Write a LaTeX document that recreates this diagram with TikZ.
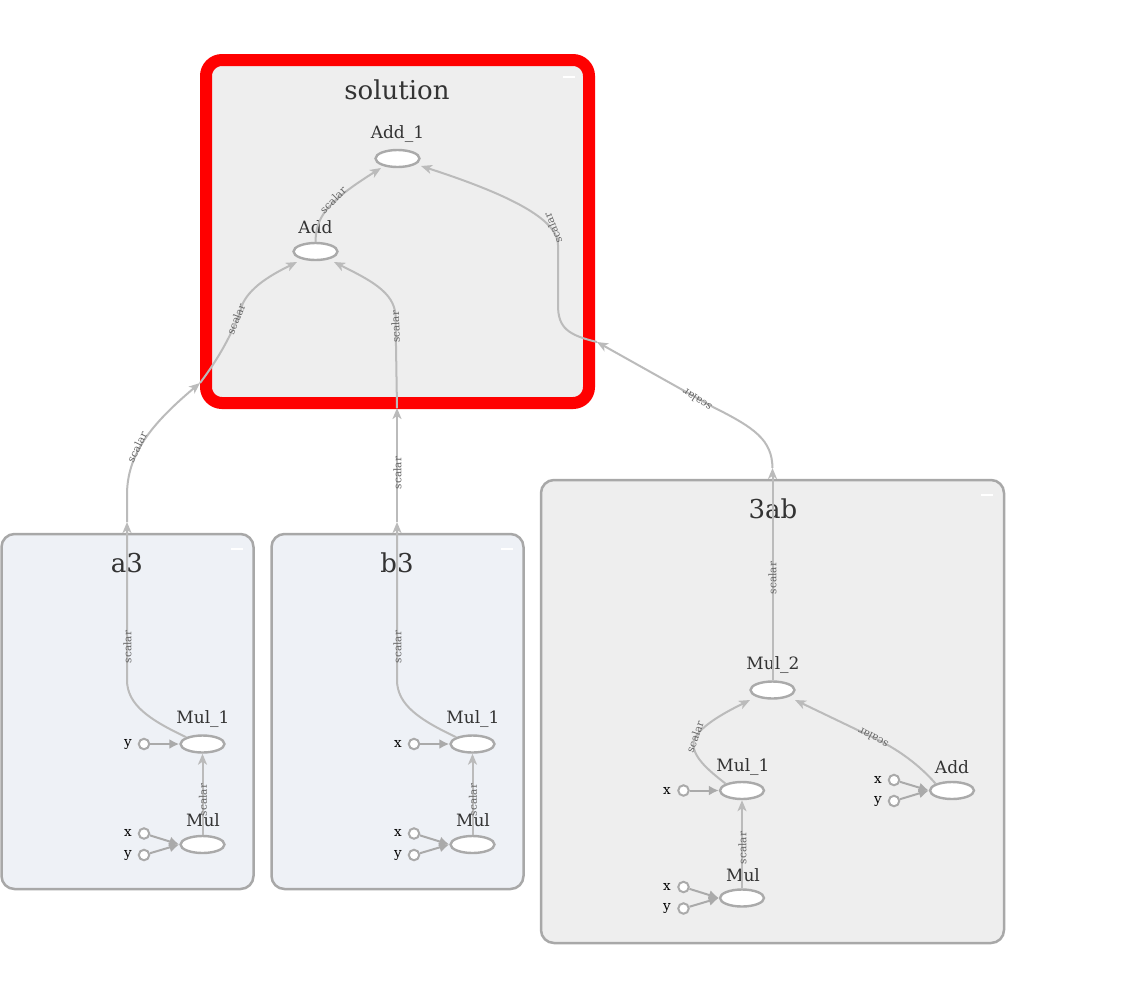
\documentclass[tikz,border=0pt]{standalone}
\usepackage{fontspec}
\setmainfont{DejaVu Serif}
\usetikzlibrary{shapes.geometric,arrows.meta}
\definecolor{opgray}{HTML}{AAAAAA}
\definecolor{edgegray}{HTML}{BBBBBB}
\definecolor{boxgray}{HTML}{A8A8A8}
\definecolor{fillgray}{HTML}{EEEEEE}
\definecolor{fillblue}{HTML}{EEF1F6}
\definecolor{txt}{HTML}{333333}
\definecolor{lbl}{HTML}{666666}
\tikzset{
  opnode/.style={ellipse, draw=opgray, fill=white, line width=2.4pt, minimum width=44pt, minimum height=17pt, inner sep=0pt},
  inpnode/.style={circle, draw=opgray, fill=white, line width=2pt, minimum size=10.5pt, inner sep=0pt},
  optext/.style={font=\fontsize{17}{17}\selectfont, text=txt, inner sep=0pt},
  inptext/.style={font=\fontsize{13.5}{13.5}\selectfont, text=black, inner sep=0pt},
  titletext/.style={font=\fontsize{26}{26}\selectfont, text=txt, inner sep=0pt},
  elabel/.style={font=\fontsize{10.5}{10.5}\selectfont, text=lbl, inner sep=0pt},
  groupbox/.style={rectangle, rounded corners=13pt, draw=boxgray, line width=2.5pt, inner sep=0pt},
  edgeline/.style={draw=edgegray, line width=2pt, -{Stealth[length=11pt,width=9pt,inset=3pt]}},
  inpline/.style={draw=opgray, line width=2pt, -{Latex[length=10pt,width=10pt]}},
  dashmark/.style={draw=white, line width=2.5pt},
}
\begin{document}
\begin{tikzpicture}[x=1pt,y=-1pt]
\useasboundingbox (0,0) rectangle (1125,1005);
\fill[white] (0,0) rectangle (1125,1005);

% ---------- group boxes ----------
\node[groupbox, draw=red, line width=12pt, rounded corners=16pt, fill=fillgray, minimum width=383pt, minimum height=343pt] (sol) at (397.5,231.5) {};
\node[groupbox, fill=fillblue, minimum width=252pt, minimum height=355pt] (a3) at (127.5,711.5) {};
\node[groupbox, fill=fillblue, minimum width=252pt, minimum height=355pt] (b3) at (397.5,711.5) {};
\node[groupbox, fill=fillgray, minimum width=463pt, minimum height=463pt] (ab) at (772.5,711.5) {};

% titles and collapse marks
\node[titletext] (soltitle) at (397,90) {solution};
\node[titletext] (a3title) at (127,563) {a3};
\node[titletext] (b3title) at (397,563) {b3};
\node[titletext] (abtitle) at (773,509) {3ab};
\draw[dashmark] (563,77) -- (575,77);
\draw[dashmark] (231,549) -- (243,549);
\draw[dashmark] (501,549) -- (513,549);
\draw[dashmark] (981,495) -- (993,495);

% ---------- solution ----------
\node[opnode] (add1) at (397.5,158.5) {};
\node[optext] (add1t) at (397.5,134) {Add\_1};
\node[opnode] (add) at (315.5,251.5) {};
\node[optext] (addt) at (315.5,227) {Add};

% ---------- a3 ----------
\node[opnode] (amul1) at (202.5,744) {};
\node[optext] (amul1t) at (203,719) {Mul\_1};
\node[opnode] (amul) at (202.5,844.5) {};
\node[optext] (amult) at (203,820) {Mul};
\node[inpnode] (ay1) at (144,744) {};
\node[inptext] (ay1t) at (128,744) {y};
\node[inpnode] (ax) at (144,833.5) {};
\node[inptext] (axt) at (128,833) {x};
\node[inpnode] (ay) at (144,855) {};
\node[inptext] (ayt) at (128,855) {y};

% ---------- b3 ----------
\node[opnode] (bmul1) at (472.5,744) {};
\node[optext] (bmul1t) at (473,719) {Mul\_1};
\node[opnode] (bmul) at (472.5,844.5) {};
\node[optext] (bmult) at (473,820) {Mul};
\node[inpnode] (bx1) at (414,744) {};
\node[inptext] (bx1t) at (398,744) {x};
\node[inpnode] (bx) at (414,833.5) {};
\node[inptext] (bxt) at (398,833) {x};
\node[inpnode] (by) at (414,855) {};
\node[inptext] (byt) at (398,855) {y};

% ---------- 3ab ----------
\node[opnode] (cmul2) at (772.5,690) {};
\node[optext] (cmul2t) at (773,665) {Mul\_2};
\node[opnode] (cmul1) at (742,790.5) {};
\node[optext] (cmul1t) at (743,767) {Mul\_1};
\node[opnode] (cmul) at (742,898) {};
\node[optext] (cmult) at (743,875) {Mul};
\node[opnode] (cadd) at (952,790.5) {};
\node[optext] (caddt) at (952,767) {Add};
\node[inpnode] (cx1) at (683.5,790.5) {};
\node[inptext] (cx1t) at (667,790.5) {x};
\node[inpnode] (cx) at (683.5,887) {};
\node[inptext] (cxt) at (667,887) {x};
\node[inpnode] (cy) at (683.5,908.5) {};
\node[inptext] (cyt) at (667,908.5) {y};
\node[inpnode] (dx) at (894,780) {};
\node[inptext] (dxt) at (878,780) {x};
\node[inpnode] (dy) at (894,801) {};
\node[inptext] (dyt) at (878,801) {y};

% ---------- boundary coordinates ----------
\coordinate (atop) at (127,522);
\coordinate (btop) at (397,522);
\coordinate (ctop) at (772.5,468);
\coordinate (solA) at (200,383);
\coordinate (solB) at (397,408);
\coordinate (solC) at (597,342);

% ---------- input edges ----------
\draw[inpline] (ay1) -- (amul1);
\draw[inpline] (ax) -- (amul.west);
\draw[inpline] (ay) -- (amul.west);
\draw[inpline] (bx1) -- (bmul1);
\draw[inpline] (bx) -- (bmul.west);
\draw[inpline] (by) -- (bmul.west);
\draw[inpline] (cx1) -- (cmul1);
\draw[inpline] (cx) -- (cmul.west);
\draw[inpline] (cy) -- (cmul.west);
\draw[inpline] (dx) -- (cadd.west);
\draw[inpline] (dy) -- (cadd.west);

% ---------- data edges ----------
\draw[edgeline] (amul) -- (amul1);
\draw[edgeline] (bmul) -- (bmul1);
\draw[edgeline] (cmul) -- (cmul1);
\draw[edgeline] (amul1.north west) .. controls (150,720) and (127,705) .. (127,680) -- (atop);
\draw[edgeline] (bmul1.north west) .. controls (420,720) and (397,705) .. (397,680) -- (btop);
\draw[edgeline] (cmul2) -- (ctop);
\draw[edgeline] (cmul1.north west) .. controls (708,770) and (690,755) .. (694,740) .. controls (700,725) and (730,710) .. (750,700);
\draw[edgeline] (cadd.north west) .. controls (915,760) and (890,745) .. (870,736) -- (795,700);

\draw[edgeline] (atop) -- (127,495) .. controls (127,455) and (150,425) .. (solA);
\draw[edgeline] (btop) -- (solB);
\draw[edgeline] (ctop) .. controls (772,440) and (755,428) .. (713,407) -- (solC);

\draw[edgeline] (solA) .. controls (225,350) and (237,322) .. (243,303) .. controls (252,285) and (275,273) .. (297,262);
\draw[edgeline] (solB) -- (395.5,315) .. controls (394,292) and (370,280) .. (334,262);
\draw[edgeline] (solC) .. controls (568,335) and (558,328) .. (558,305) -- (558,245) .. controls (558,222) and (520,198) .. (421,166);
\draw[edgeline] (add.north) .. controls (316,218) and (325,203) .. (381,168);

% ---------- edge labels ----------
\node[elabel, rotate=90] (l1) at (127.5,647) {scalar};
\node[elabel, rotate=90] (l2) at (397.5,647) {scalar};
\node[elabel, rotate=90] (l3) at (203,800) {scalar};
\node[elabel, rotate=90] (l4) at (473,800) {scalar};
\node[elabel, rotate=90] (l5) at (742.5,848) {scalar};
\node[elabel, rotate=90] (l6) at (772.5,578) {scalar};
\node[elabel, rotate=70] (l7) at (695,737) {scalar};
\node[elabel, rotate=152] (l8) at (873,738) {scalar};
\node[elabel, rotate=64] (l9) at (137,447) {scalar};
\node[elabel, rotate=90] (l10) at (397.5,473) {scalar};
\node[elabel, rotate=147] (l11) at (697,400) {scalar};
\node[elabel, rotate=68] (l12) at (236,319) {scalar};
\node[elabel, rotate=92] (l13) at (395.5,327) {scalar};
\node[elabel, rotate=112] (l14) at (553,228) {scalar};
\node[elabel, rotate=45] (l15) at (333,200) {scalar};
\end{tikzpicture}
\end{document}
